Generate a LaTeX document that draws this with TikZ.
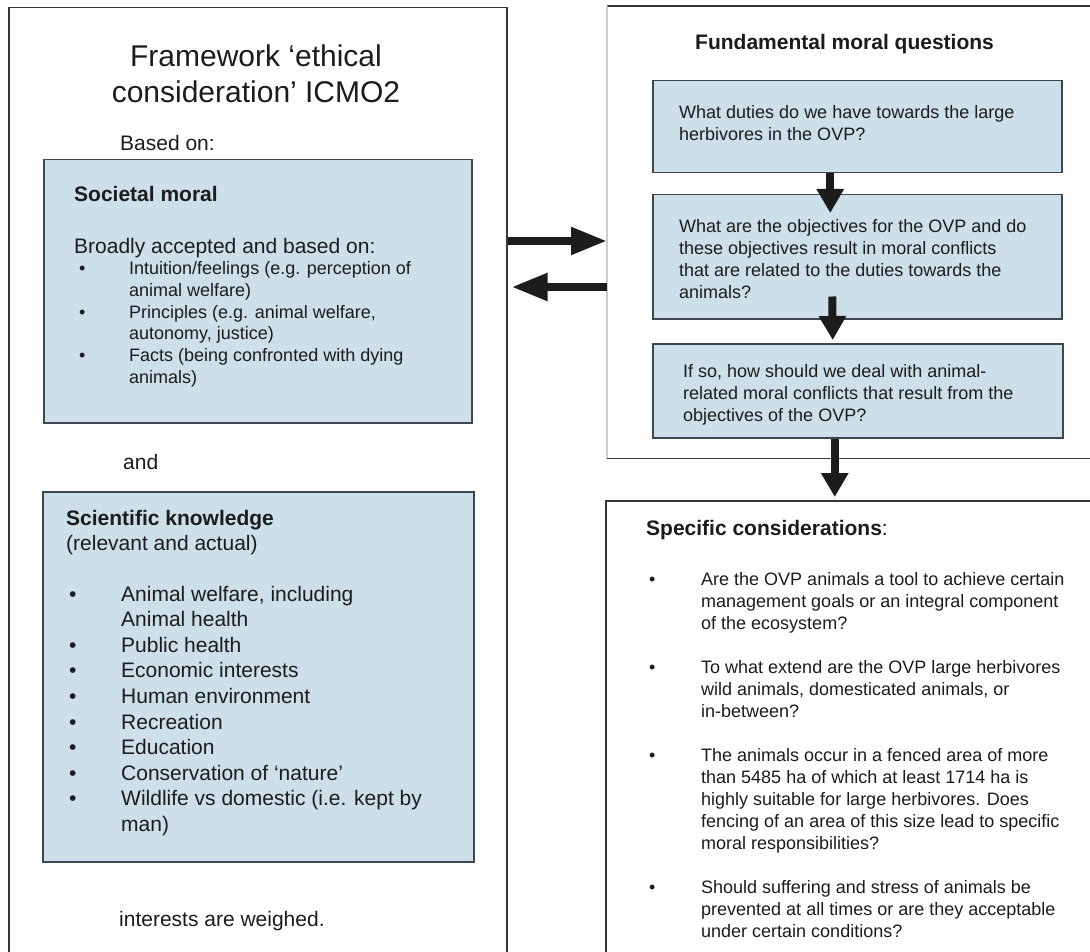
\documentclass[tikz,border=0pt]{standalone}
\usepackage{fontspec}
\setmainfont{Liberation Sans}
\usepackage{xcolor}
\usetikzlibrary{calc,arrows.meta}

\definecolor{boxblue}{RGB}{205,223,232}
\definecolor{boxedge}{RGB}{62,70,78}
\definecolor{frameedge}{RGB}{55,55,55}
\definecolor{inktext}{RGB}{28,28,28}

\tikzset{
	qbox/.style={draw=boxedge, line width=1.5pt, fill=boxblue, anchor=north west, inner sep=0},
	outerbox/.style={line width=1.5pt, anchor=north west, inner sep=0},
	bigtext/.style={font=\fontsize{21}{25.6}\selectfont, text=inktext, anchor=base west, inner sep=0},
	smalltext/.style={font=\fontsize{18}{22}\selectfont, text=inktext, anchor=base west, inner sep=0},
	fat arrow/.style={line width=8pt, draw=inktext, -{Triangle[length=36pt,width=26pt]}},
	down arrow/.style={line width=8pt, draw=inktext, -{Triangle[length=24pt,width=26pt]}},
}

\begin{document}
\begin{tikzpicture}[x=1pt,y=-1pt]
	\clip (0,0) rectangle (1090,952);
	\fill[white] (0,0) rectangle (1090,952);
	
	% frames
	\node[outerbox, draw=frameedge, minimum width=498, minimum height=980] (frame) at (8,7) {};
	\node[outerbox, minimum width=500, minimum height=451] (fund) at (607,6) {};
	\draw[frameedge, line width=1.5pt] (fund.north east) -- (fund.north west);
	\draw[gray!40, line width=1.5pt] (fund.north west) -- (fund.south west);
	\draw[frameedge, line width=1.5pt] (fund.south west) -- (fund.south east);
	\node[outerbox, draw=frameedge, minimum width=500, minimum height=470] (spec) at (605,500) {};
	
	% blue boxes
	\node[qbox, minimum width=428, minimum height=263] (societal) at (43,159) {};
	\node[qbox, minimum width=431, minimum height=370] (science) at (42,491) {};
	\node[qbox, minimum width=409, minimum height=92] (q1) at (652,80) {};
	\node[qbox, minimum width=409, minimum height=124] (q2) at (652,194) {};
	\node[qbox, minimum width=410, minimum height=94] (q3) at (652,343) {};
	
	% left column
	\node[font=\fontsize{30}{36}\selectfont, text=inktext, anchor=base, inner sep=0] (title) at (256,67)
	{\begin{tabular}[t]{@{}c@{}}Framework ‘ethical\\consideration’ ICMO2\end{tabular}};
	\node[bigtext] (based) at (120,151) {Based on:};
	\node[bigtext] (smhead) at (74,202) {\textbf{Societal moral}};
	\node[bigtext] (smintro) at (74,254) {Broadly accepted and based on:};
	\node[smalltext] (smlist) at (79,274) {\begin{tabular}[t]{@{}p{50pt}@{}l@{}}
			\textbullet & Intuition/feelings (e.g. perception of\\
			& animal welfare)\\
			\textbullet & Principles (e.g. animal welfare,\\
			& autonomy, justice)\\
			\textbullet & Facts (being confronted with dying\\
			& animals)
		\end{tabular}};
	\node[bigtext] (and) at (123,469) {and};
	\node[bigtext] (skhead) at (66,525) {\begin{tabular}[t]{@{}l@{}}
			\textbf{Scientific knowledge}\\
			(relevant and actual)
		\end{tabular}};
	\node[bigtext] (sklist) at (69,601) {\begin{tabular}[t]{@{}p{52pt}@{}l@{}}
			\textbullet & Animal welfare, including\\
			& Animal health\\
			\textbullet & Public health\\
			\textbullet & Economic interests\\
			\textbullet & Human environment\\
			\textbullet & Recreation\\
			\textbullet & Education\\
			\textbullet & Conservation of ‘nature'\\
			\textbullet & Wildlife vs domestic (i.e. kept by\\
			& man)
		\end{tabular}};
	\node[bigtext] (weighed) at (119,926) {interests are weighed.};
	
	% right column
	\node[bigtext] (fundhead) at (695,50) {\textbf{Fundamental moral questions}};
	\node[smalltext] (q1text) at (679,119) {\begin{tabular}[t]{@{}l@{}}
			What duties do we have towards the large\\
			herbivores in the OVP?
		\end{tabular}};
	\node[smalltext] (q2text) at (679,233) {\begin{tabular}[t]{@{}l@{}}
			What are the objectives for the OVP and do\\
			these objectives result in moral conflicts\\
			that are related to the duties towards the\\
			animals?
		\end{tabular}};
	\node[smalltext] (q3text) at (683,377) {\begin{tabular}[t]{@{}l@{}}
			If so, how should we deal with animal-\\
			related moral conflicts that result from the\\
			objectives of the OVP?
		\end{tabular}};
	\node[bigtext] (spechead) at (646,535) {\textbf{Specific considerations}:};
	\node[smalltext] (speclist) at (649,585) {\begin{tabular}[t]{@{}p{52pt}@{}l@{}}
			\textbullet & Are the OVP animals a tool to achieve certain\\
			& management goals or an integral component\\
			& of the ecosystem?\\
			& \\
			\textbullet & To what extend are the OVP large herbivores\\
			& wild animals, domesticated animals, or\\
			& in-between?\\
			& \\
			\textbullet & The animals occur in a fenced area of more\\
			& than 5485 ha of which at least 1714 ha is\\
			& highly suitable for large herbivores. Does\\
			& fencing of an area of this size lead to specific\\
			& moral responsibilities?\\
			& \\
			\textbullet & Should suffering and stress of animals be\\
			& prevented at all times or are they acceptable\\
			& under certain conditions?
		\end{tabular}};
	
	% arrows
	\draw[fat arrow] (frame.east |- 0,241) -- (fund.west |- 0,241);
	\draw[fat arrow, shorten >=4pt] (fund.west |- 0,287) -- (frame.east |- 0,287);
	\draw[down arrow] ([xshift=-27pt]q1.south) -- ([xshift=-27pt,yshift=-19pt]q2.north);
	\draw[down arrow] ([xshift=-25pt,yshift=23pt]q2.south) -- ([xshift=-25pt,yshift=3pt]q3.north);
	\draw[down arrow] ([xshift=-23pt]q3.south) -- ([xshift=-21pt,yshift=3pt]spec.north);
\end{tikzpicture}
\end{document}
